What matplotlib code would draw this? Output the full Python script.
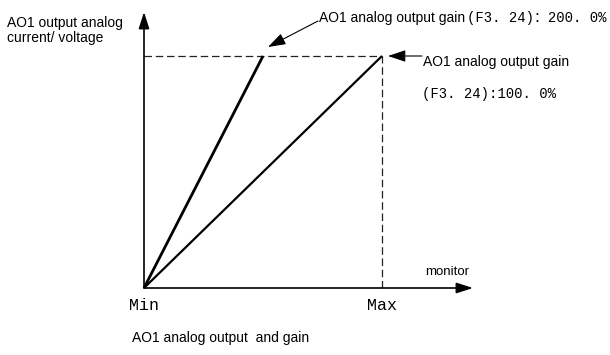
import matplotlib
matplotlib.use('Agg')
import matplotlib.pyplot as plt

# monitor value scaled Min..Max -> 0..1, output scaled 0..full scale -> 0..1
gain_labels = ['200.0%', '100.0%']
gain_x = [[0.0, 0.5], [0.0, 1.0]]
gain_y = [[0.0, 1.0], [0.0, 1.0]]
tick_labels = ['Min', 'Max']
tick_pos = [0.0, 1.0]
full_scale = 1.0

W, H = 610, 355
OX, OY = 144, 288      # pixel position of the origin
SX, SY = 238, 232      # pixels per unit


def fx(px):
    return (px - OX) / SX


def fy(py):
    return (OY - py) / SY


SANS = ['Liberation Sans', 'DejaVu Sans']
MONO = ['Liberation Mono', 'Noto Sans CJK SC', 'DejaVu Sans']

fig = plt.figure(figsize=(W / 100, H / 100), dpi=100)
fig.patch.set_facecolor('white')
ax = fig.add_axes([0, 0, 1, 1])
ax.axis('off')
ax.set_xlim(fx(0), fx(W))
ax.set_ylim(fy(H), fy(0))

# axes with arrows
axis_arrow = dict(arrowstyle='-|>,head_length=0.5,head_width=0.16', lw=1.2,
                  color='black', shrinkA=0, shrinkB=0, mutation_scale=20)
ax.annotate('', xy=(0, fy(12)), xytext=(0, 0), arrowprops=axis_arrow)
ax.annotate('', xy=(fx(473), 0), xytext=(0, 0), arrowprops=axis_arrow)

# full scale dashed guides
ax.plot([0, tick_pos[1]], [full_scale, full_scale], color='#222222',
        lw=0.9, dashes=(6, 3))
ax.plot([tick_pos[1], tick_pos[1]], [0, full_scale], color='#222222',
        lw=0.9, dashes=(6, 3))

# gain lines
ax.plot(gain_x[0], gain_y[0], color='black', lw=2.0, solid_capstyle='butt')
ax.plot(gain_x[1], gain_y[1], color='black', lw=1.6, solid_capstyle='butt')

# tick labels
for p, lab in zip(tick_pos, tick_labels):
    ax.text(p, fy(310), lab, ha='center', va='baseline', fontsize=12,
            family=MONO)

# pointer arrows
ptr = dict(arrowstyle='-|>,head_length=0.6,head_width=0.2', lw=0.8,
           color='black', shrinkA=0, shrinkB=0, mutation_scale=18)
ax.annotate('', xy=(gain_x[0][1] + fx(270) - fx(265), fy(47)),
            xytext=(fx(318), fy(21)), arrowprops=ptr)
ax.annotate('', xy=(fx(388), full_scale), xytext=(fx(422), full_scale),
            arrowprops=ptr)


def ftxt(px, py, s, **kw):
    fig.text(px / W, 1 - py / H, s, va='baseline', **kw)


ftxt(7, 27, 'AO1 output analog', fontsize=10, family=SANS)
ftxt(7, 42, 'current/ voltage', fontsize=10, family=SANS)

ftxt(319, 22, 'AO1 analog output gain', fontsize=10, family=SANS)
ftxt(467, 22, '(F3. 24)：200. 0%'.replace('200.0%', gain_labels[0]),
     fontsize=10, family=MONO)

ftxt(423, 66, 'AO1 analog output gain', fontsize=10, family=SANS)
ftxt(422, 98, '(F3. 24):100. 0%', fontsize=10, family=MONO)

ftxt(425, 275, 'monitor', fontsize=9.5, family=SANS)
ftxt(132, 342, 'AO1 analog output  and gain', fontsize=10, family=SANS)

fig.savefig('out.png', dpi=100, facecolor='white')
